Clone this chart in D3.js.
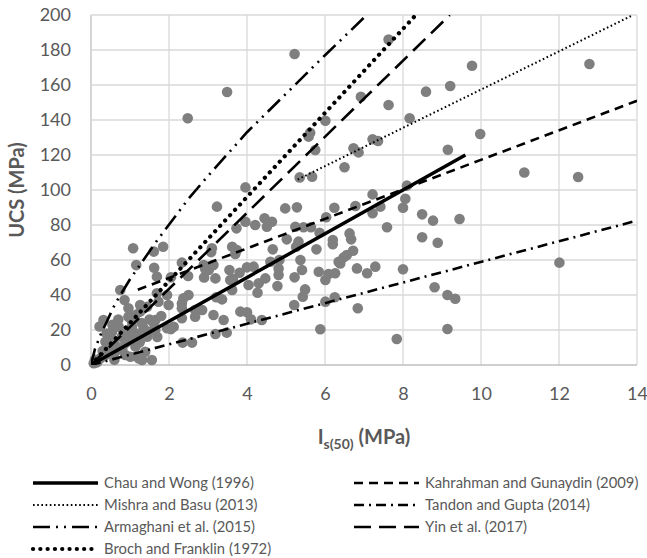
<!DOCTYPE html>
<html lang="en">
<head>
<meta charset="utf-8">
<script src="https://d3js.org/d3.v7.min.js"></script>
<style type="text/css">
body {
	margin: 0;
	background: white;
	font-family: Lato, "Open Sans", sans-serif;
}
.tick text {
	fill: #595959;
}
</style>
</head>
<body>
<script type="text/javascript">

// tick values of both axes
var xTicks = [0, 2, 4, 6, 8, 10, 12, 14];
var yTicks = [0, 20, 40, 60, 80, 100, 120, 140, 160, 180, 200];

// measured samples: [Is(50), UCS]
var samples = [
	[2.48,141],[3.49,156],[5.22,177.7],[7.63,186],[6.92,153.3],[7.63,148.6],[6.01,139.6],[5.62,132.7],
	[5.58,130.5],[5.75,122.9],[6.73,123.8],[6.86,121.5],[7.22,129],[7.36,128],[8.17,141],[6.5,113],
	[5.35,107.2],[5.67,107.6],[3.96,101.5],[7.22,97.5],[8.1,102.5],[8.06,95],
	[9.77,171],[12.78,172],[8.59,156.2],[9.21,159.4],[9.98,132],[9.15,123],[11.11,110],[12.49,107.4],
	[8.0,89.9],[8.49,86.1],[8.77,82.5],[9.45,83.4],[8.49,73],[8.89,69.9],[8.0,54.7],[12.01,58.5],
	[8.81,44.4],[9.14,40],[9.34,37.9],[9.14,20.6],[7.84,14.9],
	[3.23,90.5],[4.98,89.5],[5.28,90.1],[7.42,90.5],[6.78,90.9],[6.24,89.9],[6.03,84.4],[7.22,86.7],
	[4.45,83.8],[4.64,81.9],[4.51,79],[4.21,80],[3.96,81.9],[3.73,78.1],[5.24,79],[5.45,78.7],
	[5.64,78.7],[5.86,75.6],[6.63,75.2],[6.67,71.8],[7.59,78.7],[5.02,71.8],[5.32,70.5],[5.26,67.6],
	[6.2,71.4],[6.2,69],[5.78,66.1],[4.66,66.1],[6.72,65.3],[6.56,62.9],[6.48,61.5],[6.35,59],
	[5.37,60],[4.83,60],[4.6,59],[3.1,66.7],[3.62,67.6],[3.7,63.4],[3.08,64.5],[4.81,55.2],
	[4.0,55.8],[4.17,56.2],[3.55,54.3],[3.81,52.7],[2.93,54.7],[3.19,49.5],[3.64,49.1],[4.47,49.5],
	[4.81,51.4],[4.78,45.1],[4.04,45.7],[4.3,46.7],[4.27,41.3],[3.62,42.9],[5.22,50.1],[5.41,54.3],
	[5.84,53.3],[6.01,48.6],[6.09,52],[6.26,52.4],[6.82,55.2],[7.08,52.4],[7.29,56.2],[5.49,43.2],
	[5.43,39],[5.21,34.3],[6.01,36.2],[6.25,38.7],[6.84,32.4],[5.88,20.4],[3.21,38.7],[3.36,37.5],
	[3.14,28.6],[3.4,25.7],[3.83,30.5],[4.0,30.1],[4.1,26.1],[4.38,25.7],[3.19,17.7],[3.48,18.5],
	[6.39,58],
	[1.08,66.7],[1.61,64.8],[1.85,67.6],[1.16,57.1],[1.62,55.6],[1.69,50.5],[2.05,50.1],[2.33,58.5],
	[2.49,50.9],[2.89,57.1],[3.14,57.1],[2.9,50],[0.75,42.9],[0.86,37.1],[1.69,41],[1.95,40],
	[1.73,36.2],[1.99,34.3],[1.26,34.3],[1.44,33.3],[0.96,32.4],[0.32,25.7],[2.33,35.2],[2.33,32.4],
	[2.67,31.4],[2.5,40],[2.85,31.4],[2.35,12.8],[2.59,12.8],[1.95,21],[2.12,21.9],[1.65,25.7],
	[1.48,19],[1.31,2.9],[1.01,4.7],[3.02,54.3],[3.57,48.6],[3.74,65.7],[2.37,38.1],[1.61,23.8],
	[2.33,26.7],[2.67,27.6],
	[0.22,22],[0.96,27.6],[0.71,21.9],[1.14,28.6],[1.26,30.5],[1.05,21.9],[1.5,26],[0.54,19],
	[0.79,16.2],[1.14,18.1],[1.35,21],[1.44,16.2],[1.65,20],[0.37,13.3],[0.62,11.4],[0.88,12.4],
	[1.14,10.5],[0.62,7.6],[0.88,5.7],[0.37,5.7],[0.19,2.9],[0.07,1],[0.15,1.5],[1.22,3.8],
	[1.56,2.9],[1.39,7.6],[0.45,9],[0.3,8],[0.5,15],[0.9,18],[1.0,14],[1.25,13],[0.7,26],
	[0.55,23],[1.05,25],[1.8,28],[1.3,24],[0.8,9],[0.25,4],[0.1,3],[0.6,3],[1.2,17],[1.7,16],
	[0.4,18],[2.05,20.5]
];

var chauWong = [[0,0],[9.6,120]];
var kahraman = [[1.2,43],[14,151]];
var mishraBasu = [[5.3,106],[13.9,200]];
var tandonGupta = [[0,0],[14,82.5]];
var armaghani = [[0,0],[0.1,9],[0.24,17],[0.62,35],[1,49],[1.69,71],[2.5,95],[3,108],[4,133],[5,155],[6,177],[7.07,200]];
var yin = [[0,0],[9.2,200]];
var broch = [[0,0],[8.33,200]];

var seriesNames = ["Chau and Wong (1996)", "Kahrahman and Gunaydin (2009)", "Mishra and Basu (2013)",
	"Tandon and Gupta (2014)", "Armaghani et al. (2015)", "Yin et al. (2017)", "Broch and Franklin (1972)"];

var width = 647;
var height = 558;
var margin = {left: 91, right: 10, top: 15, bottom: 193};

var x = d3.scaleLinear().domain([0, 14]).range([margin.left, width - margin.right]);
var y = d3.scaleLinear().domain([0, 200]).range([height - margin.bottom, margin.top]);

var svg = d3.select("body")
	.append("svg")
	.attr("width", width)
	.attr("height", height);

svg.append("clipPath")
	.attr("id", "plot")
	.append("rect")
	.attr("x", x(0))
	.attr("y", y(200))
	.attr("width", x(14) - x(0))
	.attr("height", y(0) - y(200));

// grid
svg.append("g")
	.selectAll("line.gx")
	.data(xTicks)
	.enter()
	.append("line")
	.attr("x1", function(d) { return x(d); })
	.attr("x2", function(d) { return x(d); })
	.attr("y1", y(0))
	.attr("y2", y(200))
	.style("stroke", function(d) { return d == 0 ? "#bfbfbf" : "#d9d9d9"; })
	.style("stroke-width", 1.3);

svg.append("g")
	.selectAll("line.gy")
	.data(yTicks)
	.enter()
	.append("line")
	.attr("x1", x(0))
	.attr("x2", x(14))
	.attr("y1", function(d) { return y(d); })
	.attr("y2", function(d) { return y(d); })
	.style("stroke", function(d) { return d == 0 ? "#bfbfbf" : "#d9d9d9"; })
	.style("stroke-width", 1.3);

// axes (labels only)
var xAxis = svg.append("g")
	.attr("transform", "translate(0," + y(0) + ")")
	.call(d3.axisBottom(x).tickValues(xTicks).tickSize(0).tickPadding(22));
var yAxis = svg.append("g")
	.attr("transform", "translate(" + x(0) + ",0)")
	.call(d3.axisLeft(y).tickValues(yTicks).tickSize(0).tickPadding(20));
svg.selectAll(".domain").remove();
svg.selectAll(".tick text")
	.style("font-family", "Lato, sans-serif")
	.style("font-size", "18px");

// samples
svg.append("g")
	.selectAll("circle")
	.data(samples)
	.enter()
	.append("circle")
	.attr("cx", function(d) { return x(d[0]); })
	.attr("cy", function(d) { return y(d[1]); })
	.attr("r", 5.3)
	.style("fill", "#7f7f7f");

// line styles
var styles = [
	{data: chauWong, w: 3.5, dash: null, cap: "butt"},
	{data: kahraman, w: 2.6, dash: "9 6", cap: "butt"},
	{data: mishraBasu, w: 2, dash: "1.6 2.6", cap: "butt"},
	{data: tandonGupta, w: 2.6, dash: "10 5 2 5", cap: "butt"},
	{data: armaghani, w: 2.6, dash: "17 6 2 6 2 6", cap: "butt"},
	{data: yin, w: 2.6, dash: "17 8", cap: "butt"},
	{data: broch, w: 4.2, dash: "0.1 7.2", cap: "round"}
];

var line = d3.line()
	.x(function(d) { return x(d[0]); })
	.y(function(d) { return y(d[1]); });

svg.append("g")
	.attr("clip-path", "url(#plot)")
	.selectAll("path")
	.data(styles)
	.enter()
	.append("path")
	.attr("d", function(d) { return line(d.data); })
	.style("fill", "none")
	.style("stroke", "black")
	.style("stroke-width", function(d) { return d.w; })
	.style("stroke-dasharray", function(d) { return d.dash; })
	.style("stroke-linecap", function(d) { return d.cap; });

// axis titles
svg.append("text")
	.attr("transform", "translate(24," + ((y(0) + y(200)) / 2) + ") rotate(-90)")
	.attr("text-anchor", "middle")
	.style("font-size", "20px")
	.style("font-weight", "bold")
	.style("fill", "#595959")
	.text("UCS (MPa)");

var xt = svg.append("text")
	.attr("x", (x(0) + x(14)) / 2)
	.attr("y", 444)
	.attr("text-anchor", "middle")
	.style("font-size", "20px")
	.style("font-weight", "bold")
	.style("fill", "#595959");
xt.append("tspan").text("I");
xt.append("tspan").attr("dy", 5).style("font-size", "14px").text("s(50)");
xt.append("tspan").attr("dy", -5).text(" (MPa)");

// legend
var legend = svg.append("g")
	.selectAll("g")
	.data(styles)
	.enter()
	.append("g")
	.attr("transform", function(d, i) {
		var col = i % 2, row = Math.floor(i / 2);
		return "translate(" + (col == 0 ? 33 : 354) + "," + (483 + row * 22) + ")";
	});

legend.append("line")
	.attr("x1", 0)
	.attr("x2", 65)
	.style("stroke", "black")
	.style("stroke-width", function(d) { return d.w; })
	.style("stroke-dasharray", function(d) { return d.dash; })
	.style("stroke-linecap", function(d) { return d.cap; });

legend.append("text")
	.data(seriesNames)
	.attr("x", 71)
	.attr("dy", "0.35em")
	.style("font-size", "14.8px")
	.style("fill", "#595959")
	.text(function(d) { return d; });

</script>
</body>
</html>
